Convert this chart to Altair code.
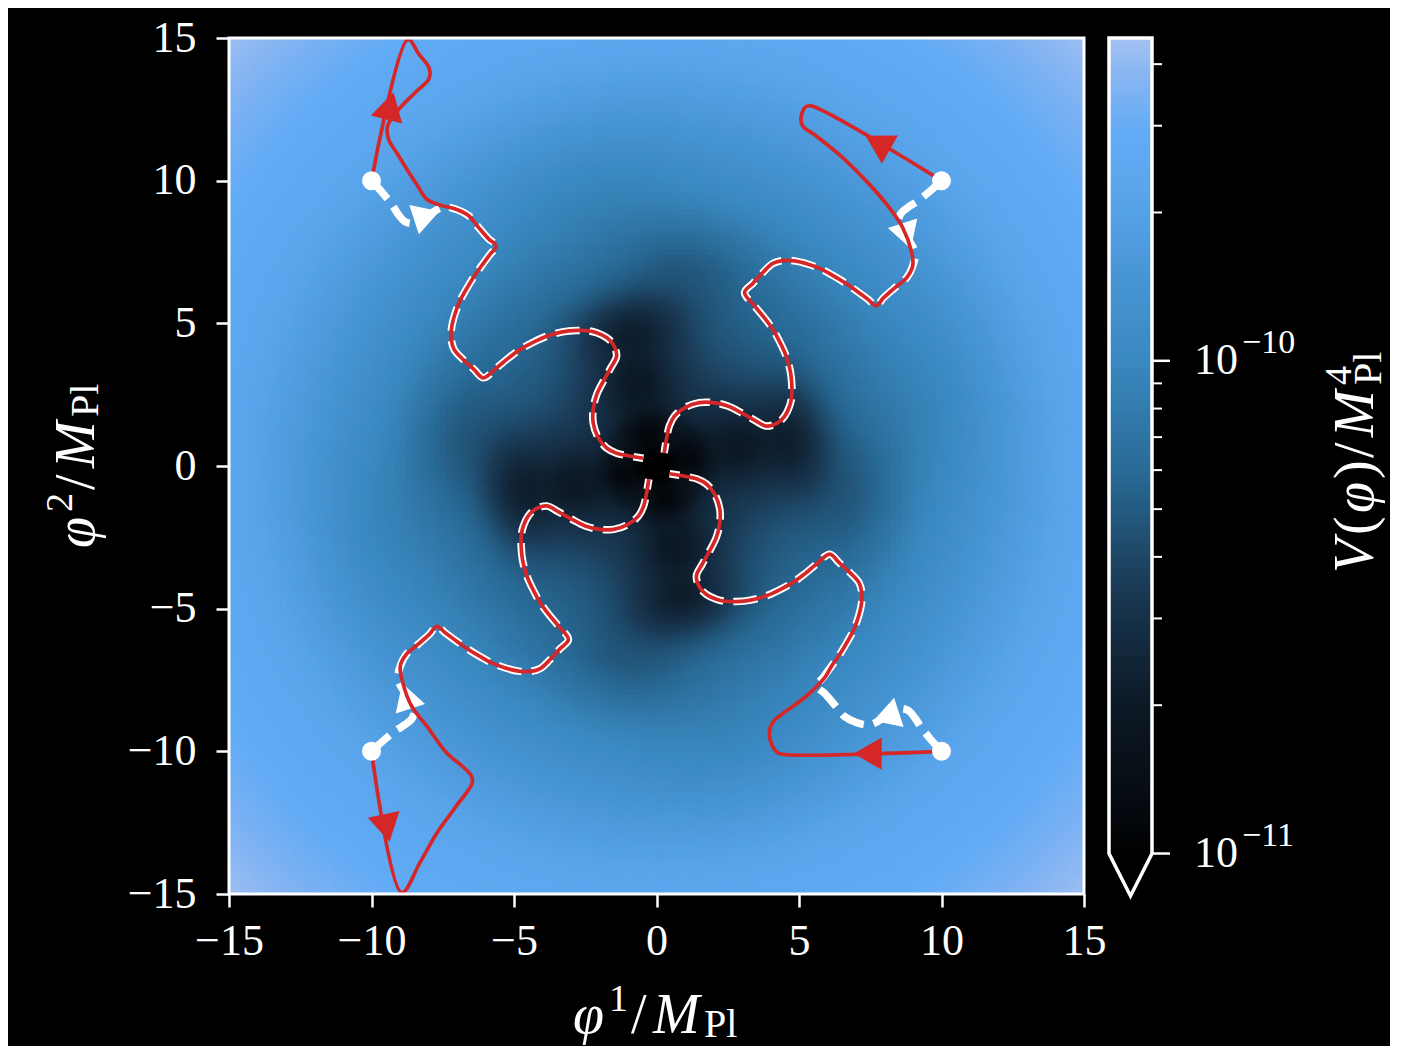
import numpy as np
import pandas as pd
import altair as alt

# ---------------- values ----------------
axis_ticks = [-15, -10, -5, 0, 5, 10, 15]

# azimuthal baseline of log10 V as a function of radius
radial_r = [0.0, 0.5, 1.0, 2.0, 3.0, 4.0, 5.0, 6.0, 7.0, 8.0, 9.0, 10.0, 11.0, 12.0, 13.0, 14.0, 15.0, 17.0, 19.0, 21.3]
radial_logv = [-11.3, -10.95, -10.75, -10.57, -10.47, -10.39, -10.31, -10.25, -10.19, -10.11, -10.03,
               -9.96, -9.89, -9.81, -9.75, -9.68, -9.63, -9.56, -9.47, -9.36]
# darker spiral-arm patches of one sector (the potential repeats every quarter turn):
# centre, depth in log10 V, radial and tangential widths
dip_x = [-4.8, -2.9, -1.3, -7.3, -10.3]
dip_y = [-0.9, -0.7, -0.35, 1.1, -2.4]
dip_depth = [0.32, 0.20, 0.22, 0.12, 0.06]
dip_radial = [0.90, 0.70, 0.45, 1.10, 1.40]
dip_tangent = [1.40, 1.00, 0.60, 1.80, 2.50]

# colour map: log10 V -> colour
cmap_logv = [-11.0, -10.92, -10.69, -10.46, -10.23, -10.0, -9.83, -9.655, -9.54, -9.43, -9.345]
cmap_colors = ["#000000", "#05090e", "#0d1a27", "#1a3a55", "#286a95", "#3a88c0",
               "#4895d5", "#5aa5ec", "#62abf5", "#84b4f2", "#a4c2f2"]
cbar_min, cbar_max, cbar_tip = 1e-11, 4.52e-10, 8.2e-12
cbar_major = [1e-11, 1e-10]
cbar_major_exp = ["\u221211", "\u221210"]
cbar_minor = [2e-11, 3e-11, 4e-11, 5e-11, 6e-11, 7e-11, 8e-11, 9e-11, 2e-10, 3e-10, 4e-10]

# common inward path (top-left arm), shared by the four trajectories
core_x = [-7.01, -6.60, -6.25, -5.90, -5.62, -5.84, -6.15, -6.43, -6.70, -6.90, -7.08, -7.19, -7.20, -7.10,
          -6.78, -6.40, -6.08, -5.61, -5.20, -4.79, -4.30, -3.85, -3.30, -2.80, -2.40, -2.10, -1.75, -1.52,
          -1.40, -1.60, -1.85, -2.10, -2.22, -2.22, -2.05, -1.75, -1.40, -1.00, -0.46]
core_y = [8.99, 8.78, 8.37, 7.97, 7.71, 7.42, 7.00, 6.60, 6.15, 5.78, 5.30, 4.84, 4.42, 4.08,
          3.73, 3.38, 3.09, 3.44, 3.78, 4.08, 4.35, 4.55, 4.70, 4.75, 4.74, 4.67, 4.50, 4.26,
          3.85, 3.45, 3.00, 2.50, 2.00, 1.50, 1.00, 0.63, 0.45, 0.36, 0.27]
# white (dashed) start from rest, top-left
hook_x = [-10.0, -9.62, -9.29, -9.06, -8.82, -8.47, -8.06, -7.48]
hook_y = [10.0, 9.58, 9.17, 8.82, 8.56, 8.51, 8.76, 9.07]
# red (solid) starts with initial velocity
red_tl_x = [-10.0, -8.72, -8.35, -7.98, -7.98, -8.40, -8.88, -9.25, -9.44, -9.40, -9.10, -8.77, -8.40, -8.06, -7.60]
red_tl_y = [10.0, 14.95, 14.45, 13.95, 13.58, 13.15, 12.68, 12.25, 11.90, 11.45, 10.95, 10.42, 9.85, 9.35, 9.15]
red_tr_x = [10.0, 5.42, 5.22, 5.07, 5.13, 5.60, 6.53, 7.47, 8.17, 8.64, 8.95]
red_tr_y = [10.0, 12.62, 12.58, 12.21, 11.92, 11.57, 10.81, 9.87, 9.05, 8.35, 7.50]
red_bl_x = [-10.0, -8.94, -8.30, -7.71, -7.05, -6.47, -6.50, -6.90, -7.36, -8.06, -8.59, -8.90]
red_bl_y = [-10.0, -14.95, -13.90, -12.87, -11.95, -11.12, -10.85, -10.45, -10.06, -9.12, -8.42, -7.60]
red_br_x = [10.0, 4.60, 4.25, 4.05, 3.96, 4.10, 4.40, 5.25, 5.90]
red_br_y = [-10.0, -10.12, -10.05, -9.78, -9.30, -8.95, -8.70, -8.07, -7.42]
red_br_join = 6  # index of the core path where the bottom-right red curve merges

red_arrow_x = [-9.35, 7.76, -9.47, 7.41]
red_arrow_y = [12.62, 11.33, -12.69, -10.08]
red_arrow_angle = [14.5, 299.5, 168.0, 270.0]
white_arrow_x = [-8.06, -8.78, 8.06, 8.78]
white_arrow_y = [8.78, -8.06, -8.78, 8.06]
white_arrow_angle = [72.0, 342.0, 252.0, 162.0]
start_x = [-10.0, 10.0, -10.0, 10.0]
start_y = [10.0, 10.0, -10.0, -10.0]

# ---------------- tables built from the readings ----------------
def quarter_turns(xs, ys, k):
    xs, ys = list(xs), list(ys)
    for _ in range(k):
        xs, ys = [-v for v in ys], list(xs)
    return xs, ys

def field(lo, hi, step):
    centers = np.arange(lo + step / 2, hi, step)
    GX, GY = np.meshgrid(centers, centers)
    LV = np.interp(np.hypot(GX, GY), radial_r, radial_logv)
    for k in range(4):
        qx, qy = quarter_turns(dip_x, dip_y, k)
        for dx, dy, dd, sr, st in zip(qx, qy, dip_depth, dip_radial, dip_tangent):
            rn = np.hypot(dx, dy)
            ux, uy = dx / rn, dy / rn
            ex, ey = GX - dx, GY - dy
            a = ex * ux + ey * uy          # along the radius
            b = -ex * uy + ey * ux         # across (tangential)
            LV -= dd * np.exp(-(a ** 2) / (2 * sr ** 2) - (b ** 2) / (2 * st ** 2))
    return pd.DataFrame({"x0": np.round(GX.ravel() - step / 2, 3),
                         "y0": np.round(GY.ravel() - step / 2, 3),
                         "w": step * 1.25,
                         "lv": np.round(LV.ravel(), 3)})

heat_df = pd.concat([field(-15, 15, 0.2), field(-7.0, 7.0, 0.1)], ignore_index=True)

rows = []
for k in range(4):
    wx, wy = quarter_turns(hook_x + core_x, hook_y + core_y, k)
    for i, (a, b) in enumerate(zip(wx, wy)):
        rows.append({"path": f"w{k}", "i": i, "x": a, "y": b})
white_df = pd.DataFrame(rows)

red_parts = [(red_tl_x, red_tl_y, 0, 0), (red_bl_x, red_bl_y, 1, 0),
             (red_br_x, red_br_y, 2, red_br_join), (red_tr_x, red_tr_y, 3, 0)]
rows = []
for n, (tx, ty, k, j) in enumerate(red_parts):
    cx, cy = quarter_turns(core_x, core_y, k)
    px, py = tx + cx[j:], ty + cy[j:]
    for i, (a, b) in enumerate(zip(px, py)):
        rows.append({"path": f"r{n}", "i": i, "x": a, "y": b})
red_df = pd.DataFrame(rows)

red_arrow_df = pd.DataFrame({"x": red_arrow_x, "y": red_arrow_y, "a": red_arrow_angle})
white_arrow_df = pd.DataFrame({"x": white_arrow_x, "y": white_arrow_y, "a": white_arrow_angle})
start_df = pd.DataFrame({"x": start_x, "y": start_y})
frame_df = pd.DataFrame({"x": [-15], "x2": [15], "y": [-15], "y2": [15]})

lmin, lmax = np.log10(cbar_min), np.log10(cbar_max)
edges = np.linspace(lmin, lmax, 241)
grad_df = pd.DataFrame({"lo": 10 ** edges[:-1], "hi": 10 ** (edges[1:] + 0.002),
                        "lv": (edges[:-1] + edges[1:]) / 2})
outline_df = pd.DataFrame({"i": [0, 1, 2, 3, 4, 5], "ox": [0, 0, 0.5, 1, 1, 0],
                           "oy": [cbar_max, cbar_min, cbar_tip, cbar_min, cbar_max, cbar_max]})
major_df = pd.DataFrame({"v": cbar_major, "base": ["10", "10"], "sup": cbar_major_exp})
minor_df = pd.DataFrame({"v": cbar_minor})
one = pd.DataFrame({"k": [0]})

# ---------------- chart ----------------
SERIF = "Liberation Serif"
RED = "#d62728"
W, H = 855, 856
CBW, CBH = 43, 858

xs = alt.Scale(domain=[-15, 15], nice=False, zero=False)
ys = alt.Scale(domain=[-15, 15], nice=False, zero=False)
cscale = alt.Scale(domain=cmap_logv, range=cmap_colors, clamp=True, interpolate="rgb")

def axis(pad):
    return alt.Axis(values=axis_ticks, title=None, grid=False, domain=False, tickSize=13, tickWidth=2.5,
                    tickColor="white", labelColor="white", labelFont=SERIF, labelFontSize=44,
                    labelPadding=pad, labelFlush=False, labelOverlap=False)

XAX, YAX = axis(12), axis(20)

def xy():
    return dict(x=alt.X("x:Q", scale=xs, axis=XAX), y=alt.Y("y:Q", scale=ys, axis=YAX))

heat = alt.Chart(heat_df).transform_calculate(
    x="datum.x0", y="datum.y0", x1="datum.x0 + datum.w", y1="datum.y0 + datum.w"
).mark_rect(clip=True).encode(
    x2="x1:Q", y2="y1:Q",
    color=alt.Color("lv:Q", scale=cscale, legend=None), **xy()
)

white_lines = alt.Chart(white_df).mark_line(
    color="white", strokeWidth=7.5, strokeDash=[24, 10], strokeCap="butt",
    interpolate="catmull-rom", clip=True
).encode(detail="path:N", order="i:Q", **xy())
red_lines = alt.Chart(red_df).mark_line(
    color=RED, strokeWidth=3.7, strokeJoin="round", interpolate="catmull-rom", clip=True
).encode(detail="path:N", order="i:Q", **xy())
white_arrows = alt.Chart(white_arrow_df).mark_point(
    shape="triangle-up", filled=True, size=950, color="white", opacity=1, strokeWidth=0
).encode(angle=alt.Angle("a:Q", scale=None), **xy())
red_arrows = alt.Chart(red_arrow_df).mark_point(
    shape="triangle-up", filled=True, size=1050, color=RED, opacity=1, strokeWidth=0
).encode(angle=alt.Angle("a:Q", scale=None), **xy())
dots = alt.Chart(start_df).mark_circle(size=360, color="white", opacity=1).encode(**xy())
frame = alt.Chart(frame_df).mark_rect(filled=False, stroke="white", strokeWidth=3).encode(
    x2="x2:Q", y2="y2:Q", **xy())

def piece(s, x, y, size, italic=False, angle=0):
    props = dict(text=s, font=SERIF, fontSize=size, color="white", align="left", baseline="alphabetic")
    if italic:
        props["fontStyle"] = "italic"
    if angle:
        props["angle"] = angle
    return alt.Chart(one).mark_text(**props).encode(x=alt.value(x), y=alt.value(y))

# axis titles as pieces (relative to the plot origin)
main_titles = [
    piece("\u03c6", 344, 995, 56, True), piece("1", 380, 973, 38), piece("/", 402, 995, 56),
    piece("M", 424, 995, 56, True), piece("Pl", 475, 999, 40),
    piece("\u03c6", -135, 510, 56, True, 270), piece("2", -157, 474, 38, False, 270),
    piece("/", -135, 452, 56, False, 270), piece("M", -135, 430, 56, True, 270),
    piece("Pl", -131, 379, 40, False, 270),
]

main = alt.layer(heat, white_lines, white_arrows, red_lines, red_arrows, dots, frame, *main_titles).properties(
    width=W, height=H, view=alt.ViewBackground(stroke="transparent"))

cb_y = alt.Scale(type="log", domain=[cbar_tip, cbar_max], nice=False)
grad = alt.Chart(grad_df).mark_rect().encode(
    x=alt.value(0), x2=alt.value(CBW),
    y=alt.Y("lo:Q", scale=cb_y, axis=None), y2="hi:Q",
    color=alt.Color("lv:Q", scale=cscale, legend=None))
outline = alt.Chart(outline_df).mark_line(color="white", strokeWidth=3.5, strokeJoin="miter", strokeCap="square").encode(
    x=alt.X("ox:Q", scale=alt.Scale(domain=[0, 1], nice=False, zero=False), axis=None),
    y=alt.Y("oy:Q", scale=cb_y, axis=None), order="i:Q")
ticks_major = alt.Chart(major_df).mark_rule(color="white", strokeWidth=2.5).encode(
    y=alt.Y("v:Q", scale=cb_y, axis=None), x=alt.value(CBW), x2=alt.value(CBW + 18))
ticks_minor = alt.Chart(minor_df).mark_rule(color="white", strokeWidth=2.0).encode(
    y=alt.Y("v:Q", scale=cb_y, axis=None), x=alt.value(CBW), x2=alt.value(CBW + 10))
labels = alt.Chart(major_df).mark_text(font=SERIF, fontSize=44, color="white", align="left", baseline="middle").encode(
    y=alt.Y("v:Q", scale=cb_y, axis=None), x=alt.value(85), text="base:N")
sups = alt.Chart(major_df).mark_text(font=SERIF, fontSize=34, color="white", align="left", baseline="middle", dy=-18).encode(
    y=alt.Y("v:Q", scale=cb_y, axis=None), x=alt.value(133), text="sup:N")
cb_titles = [
    piece("V", 264, 535, 56, True, 270), piece("(", 264, 497, 56, False, 270),
    piece("\u03c6", 264, 475, 56, True, 270), piece(")", 264, 441, 56, False, 270),
    piece("/", 264, 420, 56, False, 270), piece("M", 264, 399, 56, True, 270),
    piece("4", 242, 347, 38, False, 270), piece("Pl", 272, 347, 40, False, 270),
]
cbar = alt.layer(grad, outline, ticks_major, ticks_minor, labels, sups, *cb_titles).properties(
    width=CBW, height=CBH, view=alt.ViewBackground(stroke="transparent"))

chart = alt.hconcat(main, cbar, spacing=25, bounds="flush", background="black",
                    padding={"left": 33, "top": 7, "right": 0, "bottom": 0}
                    ).configure_view(stroke="transparent")

chart.save("out.html", embed_options={"renderer": "svg", "actions": False})
